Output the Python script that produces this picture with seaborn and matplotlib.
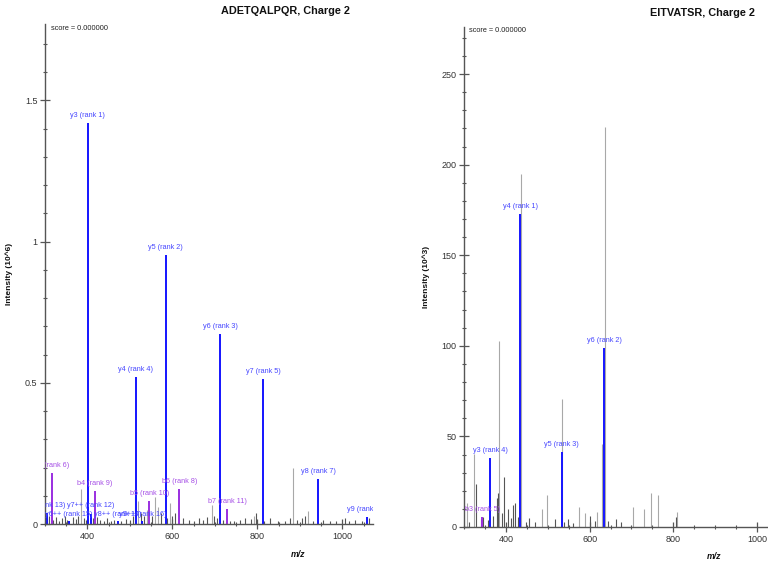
import matplotlib
matplotlib.use("Agg")
import matplotlib.pyplot as plt
import seaborn as sns
from matplotlib.ticker import MultipleLocator, FuncFormatter

# ---- left spectrum: ADETQALPQR, Charge 2 (intensity 10^6) ----
left_ion_names = ["y3", "y5", "y6", "y4", "y7", "b3", "y8", "b6", "b4", "b5", "b7",
                  "y7++", "y5++", "y8++", "y6++", "y9++", "y9"]
left_ion_ranks = [1, 2, 3, 4, 5, 6, 7, 8, 9, 10, 11, 12, 13, 14, 15, 16, 17]
left_ion_mz = [400.23, 584.35, 712.41, 513.31, 813.46, 316.11, 942.50, 616.26, 417.16,
               545.22, 729.34, 407.23, 292.68, 471.75, 356.71, 529.27, 1057.53]
left_ion_int = [1.418, 0.953, 0.671, 0.519, 0.513, 0.180, 0.161, 0.124, 0.117,
                0.083, 0.052, 0.035, 0.030, 0.010, 0.012, 0.010, 0.025]
# matched peak without label
left_extra_mz = [304.2, 357.5]
left_extra_int = [0.040, 0.010]

left_grey_mz = [384, 512, 520, 559, 594, 692, 792, 883, 919, 540, 565]
left_grey_int = [0.123, 0.097, 0.080, 0.097, 0.074, 0.067, 0.030, 0.200, 0.046, 0.050, 0.060]

left_noise_mz = [305, 310, 318, 326, 333, 340, 347, 352, 365, 372, 378, 391, 397, 412, 423,
                 430, 438, 446, 456, 462, 480, 490, 499, 506, 525, 533, 552, 572, 588, 598,
                 606, 625, 638, 650, 662, 671, 681, 697, 704, 720, 736, 745, 760, 771, 785,
                 797, 815, 830, 848, 866, 876, 893, 905, 913, 930, 955, 970, 985, 1005,
                 1015, 1030, 1045, 1062]
left_noise_int = [0.020, 0.030, 0.015, 0.025, 0.012, 0.020, 0.030, 0.015, 0.025, 0.018,
                  0.030, 0.020, 0.015, 0.020, 0.025, 0.015, 0.012, 0.020, 0.010, 0.015,
                  0.012, 0.018, 0.015, 0.030, 0.040, 0.030, 0.030, 0.040, 0.020, 0.030,
                  0.040, 0.020, 0.015, 0.010, 0.020, 0.015, 0.025, 0.030, 0.020, 0.015,
                  0.010, 0.012, 0.015, 0.020, 0.018, 0.040, 0.010, 0.020, 0.012, 0.010,
                  0.020, 0.015, 0.020, 0.030, 0.010, 0.015, 0.012, 0.010, 0.020, 0.012,
                  0.015, 0.010, 0.020]

# ---- right spectrum: EITVATSR, Charge 2 (intensity 10^3) ----
right_ion_names = ["y4", "y6", "y5", "y3", "b3"]
right_ion_ranks = [1, 2, 3, 4, 5]
right_ion_mz = [434.24, 634.35, 533.30, 363.20, 344.18]
right_ion_int = [172.6, 99.0, 41.6, 37.9, 5.3]

right_grey_mz = [383.0, 436.2, 534.3, 636.3, 629.0, 324.6, 497.7, 747.0, 764.0, 703.0,
                 731.0, 808.4, 575.0, 487.0, 306.5, 589.0, 617.0]
right_grey_int = [102.7, 195.0, 70.6, 221.0, 45.8, 40.5, 17.7, 18.6, 17.7, 11.0,
                  9.7, 8.1, 10.9, 10.0, 13.0, 7.6, 8.5]

right_noise_mz = [328.0, 346.0, 358.0, 379.6, 382.0, 396.3, 406.0, 417.8, 422.0, 455.4,
                  517.5, 549.0, 601.0, 645.0, 662.5, 675.0, 806.7, 311.0, 340.0, 370.0,
                  390.0, 412.0, 428.0, 448.0, 470.0, 540.0, 560.0, 612.0]
right_noise_int = [24.0, 5.7, 4.0, 16.0, 18.6, 27.8, 10.0, 12.0, 13.4, 4.8,
                   4.4, 4.4, 6.0, 3.5, 4.4, 3.0, 5.5, 3.0, 4.5, 6.0,
                   8.0, 5.0, 5.5, 3.0, 2.5, 3.0, 2.0, 3.5]

BLUE = "#1414ff"
BLUE_TXT = "#4646ff"
PURPLE = "#9a2ee0"
PURPLE_TXT = "#a650e6"
AXIS = "#555555"

sns.set_style("ticks")
plt.rcParams["font.family"] = ["Liberation Sans", "DejaVu Sans"]

fig = plt.figure(figsize=(7.68, 5.62), dpi=100)
ax1 = fig.add_axes([45 / 768, 38 / 562, 328 / 768, 500 / 562])
ax2 = fig.add_axes([464 / 768, 35 / 562, 304 / 768, 500 / 562])


def style_axes(ax, xlim, ylim, ymaj, ymin):
    ax.set_xlim(*xlim)
    ax.set_ylim(*ylim)
    sns.despine(ax=ax)
    for s in ["left", "bottom"]:
        ax.spines[s].set_color(AXIS)
        ax.spines[s].set_linewidth(1.0)
    ax.xaxis.set_major_locator(MultipleLocator(200))
    ax.xaxis.set_minor_locator(MultipleLocator(50))
    ax.yaxis.set_major_locator(MultipleLocator(ymaj))
    ax.yaxis.set_minor_locator(MultipleLocator(ymin))
    ax.yaxis.set_major_formatter(FuncFormatter(lambda v, p: f"{v:g}"))
    ax.tick_params(which="major", direction="inout", length=7, width=0.9,
                   color=AXIS, labelsize=6.5, labelcolor="#333333", pad=2)
    ax.tick_params(which="minor", direction="inout", length=3.5, width=0.8, color=AXIS)
    ax.set_facecolor("white")


def draw_spectrum(ax, names, ranks, mz, inten, noise_mz, noise_int,
                  grey_mz, grey_int, overrides, extra=None):
    ax.vlines(grey_mz, 0, grey_int, colors="#a8a8a8", lw=0.8)
    ax.vlines(noise_mz, 0, noise_int, colors="#555555", lw=0.8)
    if extra is not None:
        ax.vlines(extra[0], 0, extra[1], colors=BLUE, lw=1.4)
    for name, rank, x, h in zip(names, ranks, mz, inten):
        purple = name.startswith("b")
        ax.vlines(x, 0, h, colors=PURPLE if purple else BLUE, lw=1.4)
        label = f"{name} (rank {rank})"
        col = PURPLE_TXT if purple else BLUE_TXT
        if name in overrides:
            ax.text(overrides[name][0], overrides[name][1], label, ha="center", va="center",
                    fontsize=5.2, color=col, clip_on=True)
        else:
            ax.annotate(label, (x, h), xytext=(0, 5.4), textcoords="offset points",
                        ha="center", va="center", fontsize=5.2, color=col,
                        clip_on=True, annotation_clip=False)


style_axes(ax1, (300, 1072), (0, 1.77), 0.5, 0.1)
style_axes(ax2, (300, 1026), (0, 276), 50, 10)

left_overrides = {"y5++": (292.7, 0.064), "y7++": (407.2, 0.067), "y6++": (356.7, 0.032),
                  "y8++": (471.8, 0.032), "y9++": (529.3, 0.032)}
draw_spectrum(ax1, left_ion_names, left_ion_ranks, left_ion_mz, left_ion_int,
              left_noise_mz, left_noise_int, left_grey_mz, left_grey_int,
              left_overrides, extra=(left_extra_mz, left_extra_int))
draw_spectrum(ax2, right_ion_names, right_ion_ranks, right_ion_mz, right_ion_int,
              right_noise_mz, right_noise_int, right_grey_mz, right_grey_int, {})

for ax, lx, ly, mzx, mzy, ylab in [
    (ax1, -0.098, 0.5, 0.771, -0.052, "Intensity (10^6)"),
    (ax2, -0.112, 0.5, 0.822, -0.05, "Intensity (10^3)"),
]:
    ax.set_ylabel(ylab, fontsize=6, fontweight="bold", color="#111111")
    ax.yaxis.set_label_coords(lx, ly)
    ax.set_xlabel("m/z", fontsize=6.3, fontweight="bold", fontstyle="italic", color="#111111")
    ax.xaxis.set_label_coords(mzx, mzy)
    ax.text(0.018, 0.992, "score = 0.000000", transform=ax.transAxes, fontsize=5.3,
            color="#222222", ha="left", va="center")

fig.text(285 / 768, 1 - 11 / 562, "ADETQALPQR, Charge 2", ha="center", va="center",
         fontsize=7.8, fontweight="bold", color="#111111")
fig.text(702 / 768, 1 - 13 / 562, "EITVATSR, Charge 2", ha="center", va="center",
         fontsize=7.8, fontweight="bold", color="#111111")

fig.savefig("out.png", dpi=100)
